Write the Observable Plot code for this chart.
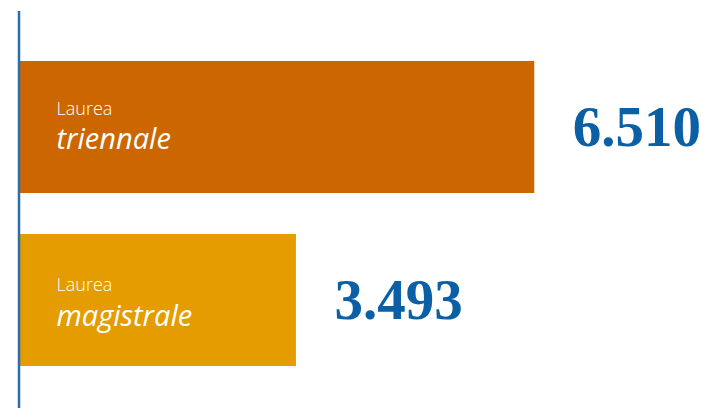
<!DOCTYPE html>
<html>
<head>
<meta charset="utf-8">
<script src="https://cdn.jsdelivr.net/npm/d3@7"></script>
<script src="https://cdn.jsdelivr.net/npm/@observablehq/plot@0.6"></script>
<style>
  html, body { margin: 0; padding: 0; background: #fff; }
  #chart svg { display: block; }
</style>
</head>
<body>
<div id="chart"></div>
<script>
// Data
const categories = ["triennale", "magistrale"];
const prefixes = ["Laurea", "Laurea"];
const values = [6510, 3493];
const valueLabels = ["6.510", "3.493"];
const colors = ["#CC6600", "#E59C00"];

const table = categories.map((c, i) => ({
  category: c, prefix: prefixes[i], value: values[i], label: valueLabels[i], color: colors[i]
}));

const fmtOffsets = { triennale: { pre: -18.5, main: 12.5 }, magistrale: { pre: -15, main: 16 } };

const marks = [
  Plot.barX(table, {x: "value", y: "category", fill: "color"}),
  Plot.ruleX([0], {stroke: "#2A6EB0", strokeWidth: 2.5, dx: -1.5}),
  Plot.text(table, {x: "value", y: "category", text: "label", dx: 38, dy: 0.5, textAnchor: "start",
    fill: "#0B5FA5", fontFamily: "Liberation Serif", fontWeight: "bold", fontSize: 57})
];
for (const c of categories) {
  const rows = table.filter(d => d.category === c);
  marks.push(Plot.text(rows, {x: () => 0, y: "category", text: "prefix", dx: 36, dy: fmtOffsets[c].pre,
    textAnchor: "start", fill: "#fff", fontFamily: "Open Sans", fontWeight: 300, fontSize: 18}));
  marks.push(Plot.text(rows, {x: () => 0, y: "category", text: "category", dx: 36, dy: fmtOffsets[c].main,
    textAnchor: "start", fill: "#fff", fontFamily: "Open Sans", fontStyle: "italic", fontWeight: 400, fontSize: 29}));
}

const chart = Plot.plot({
  width: 712,
  height: 408,
  marginLeft: 20,
  marginRight: 0,
  marginTop: 11,
  marginBottom: 0,
  style: {background: "#fff"},
  x: {domain: [0, 8760], axis: null},
  y: {domain: categories, range: [61, 366.5], paddingInner: 0.237, paddingOuter: 0, axis: null},
  color: {type: "identity"},
  marks
});
document.getElementById("chart").appendChild(chart);
</script>
</body>
</html>
